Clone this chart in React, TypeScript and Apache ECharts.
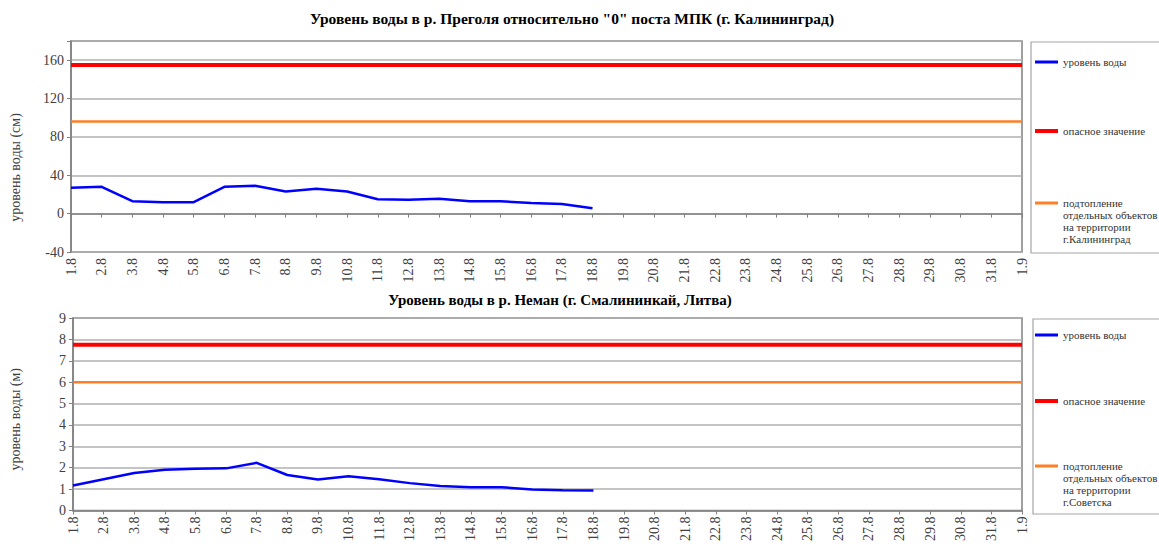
import React, { useEffect, useRef } from "react";
import * as echarts from "echarts";

const DATES = [
  "1.8", "2.8", "3.8", "4.8", "5.8", "6.8", "7.8", "8.8", "9.8", "10.8",
  "11.8", "12.8", "13.8", "14.8", "15.8", "16.8", "17.8", "18.8", "19.8", "20.8",
  "21.8", "22.8", "23.8", "24.8", "25.8", "26.8", "27.8", "28.8", "29.8", "30.8",
  "31.8", "1.9",
];

// Преголя (см)
const PREGOLYA_LEVEL = [27, 28, 13, 12, 12, 28, 29, 23, 26, 23, 15, 14.5, 15.5, 13, 13, 11, 10, 5.5];
const PREGOLYA_DANGER = 155;
const PREGOLYA_FLOOD = 96;

// Неман (м)
const NEMAN_LEVEL = [1.17, 1.46, 1.75, 1.91, 1.95, 1.97, 2.23, 1.66, 1.45, 1.6, 1.46, 1.28, 1.15, 1.09, 1.09, 0.98, 0.95, 0.94];
const NEMAN_DANGER = 7.75;
const NEMAN_FLOOD = 6;

const TITLE_TOP = 'Уровень воды в р. Преголя относительно "0" поста МПК (г. Калининград)';
const TITLE_BOTTOM = "Уровень воды в р. Неман (г. Смалининкай, Литва)";
const YNAME_TOP = "уровень воды (см)";
const YNAME_BOTTOM = "уровень воды (м)";
const S_LEVEL = "уровень воды";
const S_DANGER = "опасное значение";
const S_FLOOD_TOP = "подтопление\nотдельных объектов\nна территории\nг.Калининград";
const S_FLOOD_BOTTOM = "подтопление\nотдельных объектов\nна территории\nг.Советска";

const FONT = "'Liberation Serif', 'Times New Roman', serif";
const BLUE = "#0000ff";
const RED = "#ff0000";
const ORANGE = "#ff7f27";
const AXIS_COLOR = "#808080";
const GRID_COLOR = "#b0b0b0";
const LABEL_COLOR = "#404040";

function constLine(v: number) {
  return [[DATES[0], v], [DATES[DATES.length - 1], v]];
}

function xAxis(gridIndex: number) {
  return {
    type: "category",
    gridIndex,
    data: DATES,
    boundaryGap: false,
    axisLine: { show: true, lineStyle: { color: AXIS_COLOR, width: 1.5 } },
    axisTick: { show: true, length: 4, lineStyle: { color: AXIS_COLOR } },
    axisLabel: {
      interval: 0,
      rotate: 90,
      fontFamily: FONT,
      fontSize: 14,
      color: LABEL_COLOR,
      margin: 6,
    },
    splitLine: { show: false },
  };
}

function yAxis(gridIndex: number, min: number, max: number, interval: number, name: string, hide: number | null, shift: number) {
  return {
    type: "value",
    gridIndex,
    min,
    max,
    interval,
    name,
    nameLocation: "middle",
    nameGap: gridIndex === 0 ? 49 : 51,
    nameTextStyle: { fontFamily: FONT, fontSize: 14, color: LABEL_COLOR, padding: [0, shift, 0, 0] },
    axisLine: { show: true, lineStyle: { color: AXIS_COLOR, width: 1.5 } },
    axisTick: { show: true, length: 4, lineStyle: { color: AXIS_COLOR } },
    axisLabel: {
      fontFamily: FONT,
      fontSize: 14,
      color: LABEL_COLOR,
      margin: 7,
      formatter: (v: number) => (hide !== null && v === hide ? "" : String(v)),
    },
    splitLine: { show: true, lineStyle: { color: GRID_COLOR, width: 1.5 } },
  };
}

function legendItem(name: string, top: number, thick: number, multi: boolean) {
  return {
    left: 1035,
    top,
    padding: 0,
    icon: "rect",
    itemWidth: 23,
    itemHeight: thick,
    selectedMode: false,
    data: [name],
    formatter: (n: string) => (multi ? "\n\n\n" + n : n),
    textStyle: { fontFamily: FONT, fontSize: 11, lineHeight: 12, color: "#333333" },
  };
}

function lineSeries(name: string, xi: number, data: any[], color: string, width: number, z: number) {
  return {
    type: "line",
    name,
    xAxisIndex: xi,
    yAxisIndex: xi,
    data,
    showSymbol: false,
    symbol: "none",
    lineStyle: { color, width },
    itemStyle: { color },
    z,
  };
}

export default function App() {
  const ref = useRef<HTMLDivElement>(null);

  useEffect(() => {
    if (!ref.current) return;
    const chart = echarts.init(ref.current, null, { renderer: "svg" });
    chart.setOption({
      animation: false,
      backgroundColor: "#ffffff",
      title: [
        {
          text: TITLE_TOP,
          left: 572,
          top: 10,
          padding: 0,
          textAlign: "center",
          textStyle: { fontFamily: FONT, fontSize: 15.5, fontWeight: "bold", color: "#000000" },
        },
        {
          text: TITLE_BOTTOM,
          left: 560,
          top: 292,
          padding: 0,
          textAlign: "center",
          textStyle: { fontFamily: FONT, fontSize: 15, fontWeight: "bold", color: "#000000" },
        },
      ],
      grid: [
        { left: 71, top: 41, width: 951, height: 211, show: true, borderColor: AXIS_COLOR, borderWidth: 1.5, backgroundColor: "transparent" },
        { left: 72, top: 318, width: 950, height: 196, show: true, borderColor: AXIS_COLOR, borderWidth: 1.5, backgroundColor: "transparent" },
      ],
      xAxis: [xAxis(0), xAxis(1)],
      yAxis: [
        yAxis(0, -40, 180, 40, YNAME_TOP, 180, 42),
        yAxis(1, 0, 9, 1, YNAME_BOTTOM, null, 10),
      ],
      legend: [
        legendItem(S_LEVEL, 56, 3, false),
        legendItem(S_DANGER, 125, 4, false),
        legendItem(S_FLOOD_TOP, 161, 3, true),
        legendItem(S_LEVEL, 329, 3, false),
        legendItem(S_DANGER, 395, 4, false),
        legendItem(S_FLOOD_BOTTOM, 424, 3, true),
      ],
      graphic: [
        { type: "rect", shape: { x: 1031, y: 42, width: 140, height: 211 }, style: { fill: "none", stroke: "#a6a6a6", lineWidth: 1.2 }, silent: true },
        { type: "rect", shape: { x: 1033, y: 319, width: 140, height: 195 }, style: { fill: "none", stroke: "#a6a6a6", lineWidth: 1.2 }, silent: true },
      ],
      series: [
        lineSeries(S_LEVEL, 0, PREGOLYA_LEVEL, BLUE, 2.5, 5),
        lineSeries(S_DANGER, 0, constLine(PREGOLYA_DANGER), RED, 4, 4),
        lineSeries(S_FLOOD_TOP, 0, constLine(PREGOLYA_FLOOD), ORANGE, 2.5, 3),
        lineSeries(S_LEVEL, 1, NEMAN_LEVEL, BLUE, 2.5, 5),
        lineSeries(S_DANGER, 1, constLine(NEMAN_DANGER), RED, 4, 4),
        lineSeries(S_FLOOD_BOTTOM, 1, constLine(NEMAN_FLOOD), ORANGE, 2.5, 3),
      ],
    });
    return () => chart.dispose();
  }, []);

  return (
    <div
      ref={ref}
      style={{ position: "fixed", left: 0, top: 0, width: 1159, height: 544, background: "#fff" }}
    />
  );
}
